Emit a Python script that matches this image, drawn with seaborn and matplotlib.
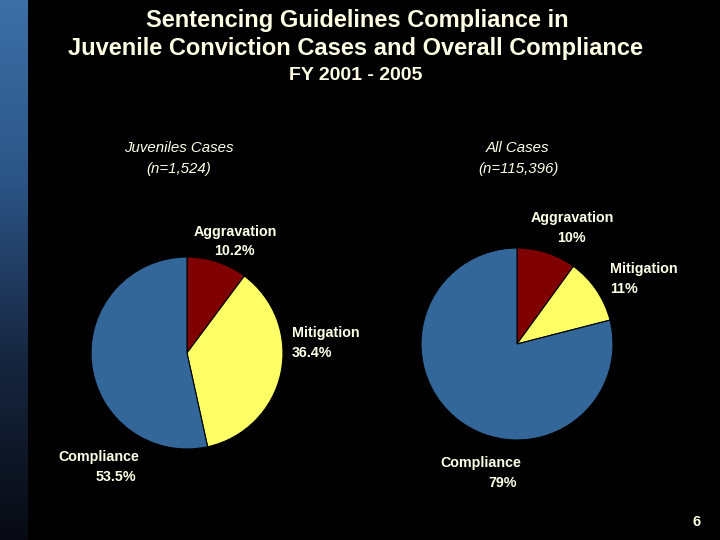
import numpy as np
import matplotlib
matplotlib.use("Agg")
import matplotlib.pyplot as plt
from matplotlib.colors import LinearSegmentedColormap
import seaborn as sns

# Chart data
categories = ["Aggravation", "Mitigation", "Compliance"]
juvenile_pct = [10.2, 36.4, 53.5]
all_cases_pct = [10, 11, 79]
juvenile_labels = ["10.2%", "36.4%", "53.5%"]
all_cases_labels = ["10%", "11%", "79%"]

slice_colors = ["#800000", "#ffff66", "#336699"]
text_color = "#ffffe6"

sns.set_theme(style="dark", rc={"figure.facecolor": "black", "axes.facecolor": "black"})
plt.rcParams["font.family"] = ["Liberation Sans", "DejaVu Sans"]

W, H = 720, 540
fig = plt.figure(figsize=(W / 100, H / 100), dpi=100)
fig.patch.set_facecolor("black")


def px(x, y):
    """Convert pixel position (from top-left) to figure fraction."""
    return x / W, 1 - y / H


def label(x, y, text, ha="center", **kw):
    fx, fy = px(x, y)
    fig.text(fx, fy, text, ha=ha, va="center", color=text_color, **kw)


# Blue gradient strip on the left
strip = fig.add_axes([0, 0, 28 / W, 1])
grad = np.linspace(0, 1, 256).reshape(-1, 1)
cmap = LinearSegmentedColormap.from_list("strip", ["#3c6fa6", "#2c5586", "#17263f", "#070a12"])
strip.imshow(grad, aspect="auto", cmap=cmap, extent=[0, 1, 0, 1], origin="upper")
strip.axis("off")

# Titles
label(357, 20, "Sentencing Guidelines Compliance in", fontsize=17, fontweight="bold")
label(356, 48, "Juvenile Conviction Cases and Overall Compliance", fontsize=17, fontweight="bold")
label(356, 75, "FY 2001 - 2005", fontsize=14, fontweight="bold")

sub_kw = dict(fontsize=10.8, style="italic")
label(179, 148, "Juveniles Cases", **sub_kw)
label(179, 169, "(n=1,524)", **sub_kw)
label(517, 148, "All Cases", **sub_kw)
label(518, 169, "(n=115,396)", **sub_kw)


def draw_pie(center, radius, values):
    cx, cy = center
    ax = fig.add_axes([(cx - radius) / W, (H - cy - radius) / H, 2 * radius / W, 2 * radius / H])
    ax.pie(values, colors=slice_colors, startangle=90, counterclock=False, radius=1,
           wedgeprops={"edgecolor": "black", "linewidth": 0.8})
    ax.set_xlim(-1, 1)
    ax.set_ylim(-1, 1)
    ax.set_aspect("equal")
    ax.axis("off")


draw_pie((187, 353), 96, juvenile_pct)
draw_pie((517, 344), 96, all_cases_pct)

lab_kw = dict(fontsize=10.3, fontweight="bold")

# Juvenile pie labels
label(235, 232, categories[0], **lab_kw)
label(234, 251, juvenile_labels[0], **lab_kw)
label(292, 333, categories[1], ha="left", **lab_kw)
label(292, 353, juvenile_labels[1], ha="left", **lab_kw)
label(58, 457, categories[2], ha="left", **lab_kw)
label(116, 477, juvenile_labels[2], **lab_kw)

# All cases pie labels
label(572, 218, categories[0], **lab_kw)
label(571, 238, all_cases_labels[0], **lab_kw)
label(610, 269, categories[1], ha="left", **lab_kw)
label(610, 289, all_cases_labels[1], ha="left", **lab_kw)
label(481, 463, categories[2], **lab_kw)
label(503, 483, all_cases_labels[2], **lab_kw)

label(697, 522, "6", fontsize=10.5, fontweight="bold")

fig.savefig("out.png", dpi=100, facecolor="black")
